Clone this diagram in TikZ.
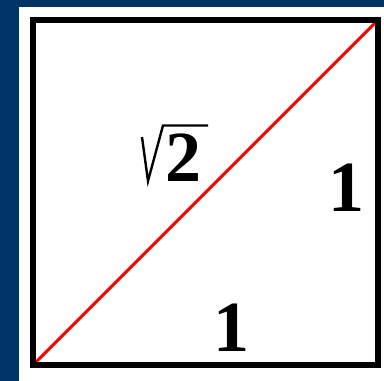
\documentclass[tikz,border=0pt]{standalone}
\usepackage{fontspec}
\setmainfont{Liberation Serif}
\definecolor{bgblue}{HTML}{003366}
\definecolor{diagred}{HTML}{FF0000}
\begin{document}
\begin{tikzpicture}[x=1pt,y=-1pt,
  numlabel/.style={font=\fontsize{72}{72}\selectfont\bfseries, inner sep=0pt, text=black},
  frame/.style={draw=black, line width=6pt},
  diag/.style={draw=diagred, line width=3pt},
  radical/.style={draw=black, line width=2.4pt, line join=miter}]
\useasboundingbox (0,0) rectangle (384,381);
\fill[bgblue] (0,0) rectangle (384,381);
\fill[white] (19,7) rectangle (384,381);
\coordinate (bl) at (33,365);
\coordinate (tr) at (378,20);
\draw[diag] (bl) -- (tr);
\draw[frame] (bl) rectangle (tr);
\node[numlabel] (two) at (183.5,157.5) {2};
\coordinate (r1) at (142,137);
\coordinate (r2) at (148,181);
\coordinate (r3) at (163,125.5);
\coordinate (r4) at (208,125.5);
\draw[radical] (r1) -- (r2) -- (r3) -- (r4);
\node[numlabel] (right) at (346,188) {1};
\node[numlabel] (bottom) at (231,328) {1};
\end{tikzpicture}
\end{document}
